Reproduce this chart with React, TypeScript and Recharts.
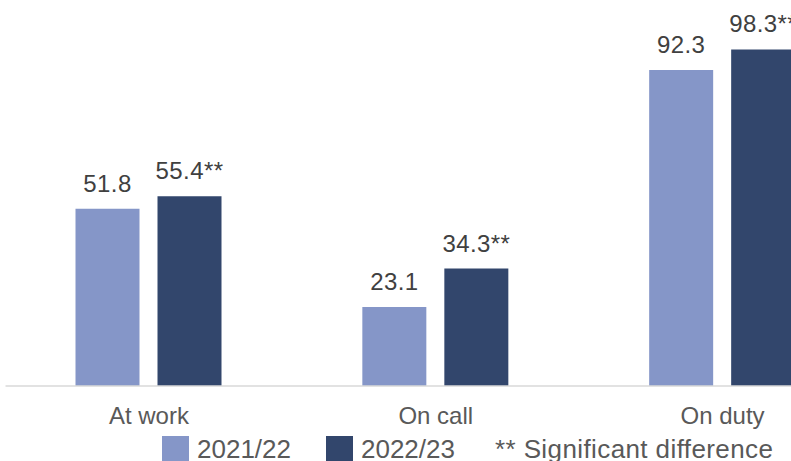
import { BarChart, Bar, XAxis, YAxis, Legend, LabelList } from "recharts";

const categories = ["At work", "On call", "On duty"];
const values2122 = [51.8, 23.1, 92.3];
const values2223 = [55.4, 34.3, 98.3];
const significant2223 = [true, true, true];

const seriesNames = ["2021/22", "2022/23"];
const noteText = "** Significant difference";

const data = categories.map((name, i) => ({
  name,
  y2122: values2122[i],
  y2223: values2223[i],
  sig2223: significant2223[i],
}));

const LIGHT = "#8596c8";
const DARK = "#32466c";
const TEXT = "#404040";
const SOFT_TEXT = "#595959";
const FONT = "'Liberation Sans', Arial, sans-serif";

function makeLabel(sigKey?: string) {
  return (props: any) => {
    const { x, y, width, value, index } = props;
    const star = sigKey && (data[index] as any)[sigKey] ? "**" : "";
    return (
      <text
        x={x + width / 2}
        y={y - 17}
        textAnchor="middle"
        fill={TEXT}
        fontSize={24}
        letterSpacing={0.4}
        fontFamily={FONT}
      >
        {value.toFixed(1) + star}
      </text>
    );
  };
}

function CategoryTick({ x, y, payload }: any) {
  return (
    <text
      x={x}
      y={y + 30}
      textAnchor="middle"
      fill={SOFT_TEXT}
      fontSize={24}
      fontFamily={FONT}
    >
      {payload.value}
    </text>
  );
}

function ChartLegend() {
  const items = [
    { label: seriesNames[0], color: LIGHT },
    { label: seriesNames[1], color: DARK },
  ];
  return (
    <div
      style={{
        display: "flex",
        alignItems: "center",
        fontFamily: FONT,
        fontSize: 26,
        color: SOFT_TEXT,
        marginLeft: 162,
        height: 28,
        lineHeight: "28px",
        whiteSpace: "nowrap",
      }}
    >
      {items.map((it) => (
        <span key={it.label} style={{ display: "flex", alignItems: "center", marginRight: 35 }}>
          <span style={{ width: 27, height: 27, background: it.color, marginRight: 8 }} />
          {it.label}
        </span>
      ))}
      <span style={{ marginLeft: 5, letterSpacing: 0.4 }}>{noteText}</span>
    </div>
  );
}

export default function App() {
  return (
    <div
      style={{
        position: "absolute",
        left: 0,
        top: 0,
        width: 791,
        height: 461,
        overflow: "hidden",
        background: "#fff",
      }}
    >
      <BarChart
        width={880}
        height={461}
        data={data}
        margin={{ top: 43.6, right: 14, left: 5.5, bottom: 0 }}
        barGap={18}
        barSize={64}
      >
        <XAxis
          dataKey="name"
          tickLine={false}
          axisLine={{ stroke: "#d9d9d9", strokeWidth: 1.5 }}
          tick={<CategoryTick />}
          height={47}
          interval={0}
        />
        <YAxis hide domain={[0, 100]} />
        <Legend
          verticalAlign="bottom"
          content={<ChartLegend />}
          wrapperStyle={{ left: 0, top: 435, width: 880, height: 28 }}
        />
        <Bar dataKey="y2122" name={seriesNames[0]} fill={LIGHT} isAnimationActive={false}>
          <LabelList dataKey="y2122" content={makeLabel()} />
        </Bar>
        <Bar dataKey="y2223" name={seriesNames[1]} fill={DARK} isAnimationActive={false}>
          <LabelList dataKey="y2223" content={makeLabel("sig2223")} />
        </Bar>
      </BarChart>
    </div>
  );
}
